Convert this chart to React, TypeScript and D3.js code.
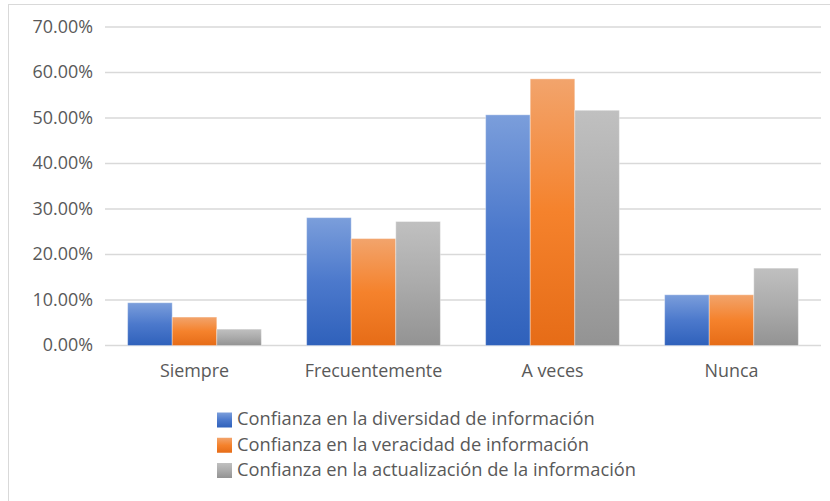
import React from "react";
import * as d3 from "d3";

const categories = ["Siempre", "Frecuentemente", "A veces", "Nunca"];
const seriesNames = [
  "Confianza en la diversidad de información",
  "Confianza en la veracidad de información",
  "Confianza en la actualización de la información",
];
const diversidad = [0.094, 0.281, 0.507, 0.1115];
const veracidad = [0.0625, 0.235, 0.586, 0.1115];
const actualizacion = [0.036, 0.2725, 0.517, 0.17];
const yTicks = [0, 0.1, 0.2, 0.3, 0.4, 0.5, 0.6, 0.7];

const gradients = [
  ["#7b9edb", "#4c79cc", "#2f61bb"],
  ["#f2a46c", "#f5822c", "#e66c17"],
  ["#c0c0c0", "#ababab", "#939393"],
];

export default function App() {
  const W = 830, H = 501;
  const left = 105, right = 821, top = 27, bottom = 345.5;
  const x0 = d3.scaleBand<string>().domain(categories).range([left, right]).paddingInner(0.253).paddingOuter(0.1265);
  const x1 = d3.scaleBand<number>().domain([0, 1, 2]).range([0, x0.bandwidth()]);
  const y = d3.scaleLinear().domain([0, 0.7]).range([bottom, top]);
  const series = [diversidad, veracidad, actualizacion];
  const fmt = (v: number) => (v * 100).toFixed(2) + "%";
  const font = "'Open Sans', 'Noto Sans', sans-serif";
  const fs = 17.9;
  const lfs = 18.3;
  return (
    <svg width={W} height={H} style={{ position: "absolute", left: 0, top: 0 }} fontFamily={font}>
      <defs>
        {gradients.map((g, i) => (
          <linearGradient key={i} id={"g" + i} x1="0" y1="0" x2="0" y2="1">
            <stop offset="0" stopColor={g[0]} />
            <stop offset="0.5" stopColor={g[1]} />
            <stop offset="1" stopColor={g[2]} />
          </linearGradient>
        ))}
      </defs>
      <rect x={0} y={0} width={W} height={H} fill="#fff" />
      <line x1={8} x2={W} y1={4.5} y2={4.5} stroke="#d9d9d9" />
      <line x1={8.5} x2={8.5} y1={4.5} y2={H} stroke="#d9d9d9" />
      {yTicks.map((t) => (
        <g key={t}>
          <line x1={left} x2={right} y1={y(t)} y2={y(t)} stroke="#d9d9d9" strokeWidth={1.3} />
          <text x={93} y={y(t) + 1} textAnchor="end" dominantBaseline="middle" fontSize={fs} fill="#595959">
            {fmt(t)}
          </text>
        </g>
      ))}
      {categories.map((c, ci) => (
        <g key={c}>
          {series.map((s, si) => (
            <rect
              key={si}
              x={(x0(c) as number) + (x1(si) as number)}
              y={y(s[ci])}
              width={x1.bandwidth()}
              height={y(0) - y(s[ci])}
              fill={`url(#g${si})`}
              stroke="#ffffff"
              strokeOpacity={0.35}
              strokeWidth={1}
            />
          ))}
          <text x={(x0(c) as number) + x0.bandwidth() / 2} y={377} textAnchor="middle" fontSize={fs} fill="#595959">
            {c}
          </text>
        </g>
      ))}
      {seriesNames.map((n, i) => (
        <g key={n}>
          <rect x={217} y={412.5 + i * 25.25} width={15} height={15} fill={`url(#g${i})`} />
          <text x={237} y={420.5 + i * 25.25} dominantBaseline="middle" fontSize={lfs} fill="#595959">
            {n}
          </text>
        </g>
      ))}
    </svg>
  );
}
